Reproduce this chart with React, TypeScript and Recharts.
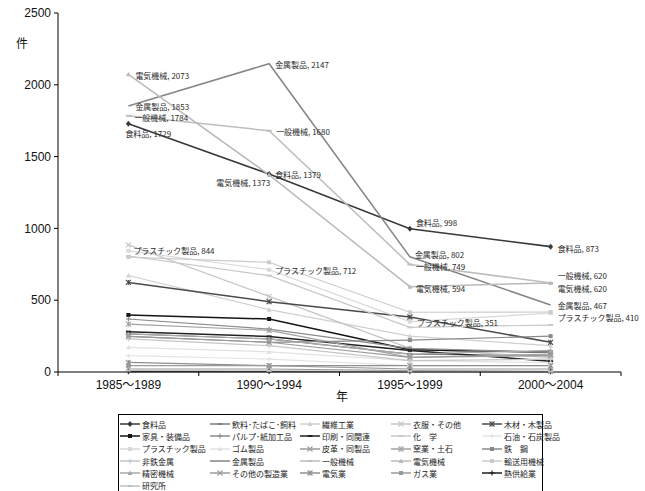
import React from "react"
import { LabelList, Line, LineChart, XAxis, YAxis } from "recharts"

const periods = ["1985～1989", "1990～1994", "1995～1999", "2000～2004"]
const yTicks = [0, 500, 1000, 1500, 2000, 2500]

const food = [1729, 1379, 998, 873]
const beverage = [265, 230, 125, 114]
const textile = [672, 434, 250, 183]
const apparel = [885, 527, 165, 100]
const lumber = [624, 490, 383, 207]
const furniture = [397, 369, 155, 137]
const pulp = [369, 299, 165, 137]
const printing = [281, 248, 150, 75]
const chemical = [808, 671, 311, 327]
const petroleum = [114, 90, 44, 44]
const plastic = [844, 712, 351, 410]
const rubber = [172, 140, 79, 65]
const leather = [21, 21, 10, 5]
const ceramic = [334, 290, 102, 125]
const steel = [248, 207, 222, 250]
const nonferrous = [230, 183, 79, 90]
const metal = [1853, 2147, 802, 467]
const machinery = [1784, 1680, 749, 620]
const electrical = [2073, 1373, 594, 620]
const transport = [800, 764, 416, 418]
const precision = [265, 230, 125, 150]
const otherMfg = [248, 207, 102, 114]
const electricity = [67, 44, 44, 44]
const gas = [44, 44, 21, 21]
const heat = [2, 2, 2, 2]
const research = [10, 8, 5, 3]

const seriesNames = [
  "食料品", "飲料･たばこ･飼料", "繊維工業", "衣服・その他", "木材・木製品",
  "家具・装備品", "パルプ･紙加工品", "印刷・同関連", "化　学", "石油・石炭製品",
  "プラスチック製品", "ゴム製品", "皮革・同製品", "窯業・土石", "鉄　鋼",
  "非鉄金属", "金属製品", "一般機械", "電気機械", "輸送用機械",
  "精密機械", "その他の製造業", "電気業", "ガス業", "熱供給業",
  "研究所",
]
const seriesValues = [
  food, beverage, textile, apparel, lumber,
  furniture, pulp, printing, chemical, petroleum,
  plastic, rubber, leather, ceramic, steel,
  nonferrous, metal, machinery, electrical, transport,
  precision, otherMfg, electricity, gas, heat,
  research,
]

// points that carry a "name, value" label: [series, period index]
const labelPoints: [string, number][] = [
  ["電気機械", 0], ["金属製品", 0], ["一般機械", 0], ["食料品", 0], ["プラスチック製品", 0],
  ["金属製品", 1], ["一般機械", 1], ["食料品", 1], ["電気機械", 1], ["プラスチック製品", 1],
  ["食料品", 2], ["金属製品", 2], ["一般機械", 2], ["電気機械", 2], ["プラスチック製品", 2],
  ["食料品", 3], ["一般機械", 3], ["電気機械", 3], ["金属製品", 3], ["プラスチック製品", 3],
]

type Marker = "diamond" | "square" | "triangle" | "x" | "star" | "plus" | "dash" | "none"
type Style = { color: string; marker: Marker; width?: number }

const styles: Style[] = [
  { color: "#383838", marker: "diamond", width: 1.6 },
  { color: "#7e7e7e", marker: "dash" },
  { color: "#d0d0d0", marker: "triangle" },
  { color: "#c4c4c4", marker: "x" },
  { color: "#4a4a4a", marker: "star", width: 1.5 },
  { color: "#151515", marker: "square", width: 1.5 },
  { color: "#8c8c8c", marker: "plus" },
  { color: "#222222", marker: "dash", width: 1.5 },
  { color: "#c8c8c8", marker: "dash" },
  { color: "#e4e4e4", marker: "plus" },
  { color: "#d8d8d8", marker: "square" },
  { color: "#e2e2e2", marker: "triangle" },
  { color: "#9a9a9a", marker: "x" },
  { color: "#a2a2a2", marker: "star" },
  { color: "#8a8a8a", marker: "square" },
  { color: "#c6c6c6", marker: "plus" },
  { color: "#858585", marker: "none", width: 1.5 },
  { color: "#bdbdbd", marker: "dash", width: 1.5 },
  { color: "#bababa", marker: "triangle", width: 1.5 },
  { color: "#cbcbcb", marker: "square" },
  { color: "#a8a8a8", marker: "triangle" },
  { color: "#9c9c9c", marker: "x" },
  { color: "#8f8f8f", marker: "star" },
  { color: "#9a9a9a", marker: "square" },
  { color: "#1f1f1f", marker: "plus" },
  { color: "#c0c0c0", marker: "dash" },
]

const labelPlacement: Record<string, { dx: number; dy: number; anchor?: "start" | "end" }> = {
  "電気機械-0": { dx: 7, dy: 1 },
  "金属製品-0": { dx: 7, dy: 1 },
  "一般機械-0": { dx: 6, dy: 2 },
  "食料品-0": { dx: -3, dy: 10 },
  "プラスチック製品-0": { dx: 5, dy: 0 },
  "金属製品-1": { dx: 6, dy: 1 },
  "一般機械-1": { dx: 7, dy: 1 },
  "食料品-1": { dx: 6, dy: 1 },
  "電気機械-1": { dx: 1, dy: 8, anchor: "end" },
  "プラスチック製品-1": { dx: 6, dy: 1 },
  "食料品-2": { dx: 6, dy: -6 },
  "金属製品-2": { dx: 5, dy: -2 },
  "一般機械-2": { dx: 6, dy: 2 },
  "電気機械-2": { dx: 6, dy: 2 },
  "プラスチック製品-2": { dx: 7, dy: 1 },
  "食料品-3": { dx: 7, dy: 2 },
  "一般機械-3": { dx: 7, dy: -7 },
  "電気機械-3": { dx: 7, dy: 6 },
  "金属製品-3": { dx: 7, dy: 1 },
  "プラスチック製品-3": { dx: 7, dy: 4 },
}

const rows = periods.map((period, i) => {
  const row: Record<string, number | string> = { period, pos: i + 0.5 }
  seriesValues.forEach((vals, k) => {
    row[`s${k}`] = vals[i]
  })
  return row
})

const FONT = '"Liberation Sans", Arial, "Noto Sans CJK JP", sans-serif'
const CJK = '"Noto Sans CJK JP", "Liberation Sans", sans-serif'
const BAND = (621 - 58) / periods.length

function MarkerShape({ kind, x, y, color, r = 2.5 }: { kind: Marker; x: number; y: number; color: string; r?: number }) {
  switch (kind) {
    case "diamond":
      return <polygon points={`${x},${y - r - 0.5} ${x + r},${y} ${x},${y + r + 0.5} ${x - r},${y}`} fill={color} />
    case "square":
      return <rect x={x - r + 0.5} y={y - r + 0.5} width={2 * r - 1} height={2 * r - 1} fill={color} />
    case "triangle":
      return <polygon points={`${x},${y - r} ${x + r},${y + r - 0.5} ${x - r},${y + r - 0.5}`} fill={color} />
    case "x":
      return (
        <g stroke={color} strokeWidth={1.1}>
          <line x1={x - r} y1={y - r} x2={x + r} y2={y + r} />
          <line x1={x - r} y1={y + r} x2={x + r} y2={y - r} />
        </g>
      )
    case "star":
      return (
        <g stroke={color} strokeWidth={1.1}>
          <line x1={x - r} y1={y - r} x2={x + r} y2={y + r} />
          <line x1={x - r} y1={y + r} x2={x + r} y2={y - r} />
          <line x1={x} y1={y - r} x2={x} y2={y + r} />
        </g>
      )
    case "plus":
      return (
        <g stroke={color} strokeWidth={1.1}>
          <line x1={x} y1={y - r} x2={x} y2={y + r} />
          <line x1={x - r} y1={y} x2={x + r} y2={y} />
        </g>
      )
    case "dash":
      return <rect x={x - r} y={y - 1} width={2 * r} height={2} fill={color} />
    default:
      return null
  }
}

function makeDot(style: Style, k: number) {
  return (props: any) => {
    const { cx, cy, index } = props
    if (cx == null || cy == null) return <g key={`d${k}-${index}`} />
    return (
      <g key={`d${k}-${index}`}>
        <MarkerShape kind={style.marker} x={cx} y={cy} color={style.color} />
      </g>
    )
  }
}

function makeLabel(name: string) {
  return (props: any) => {
    const { x, y, value, index } = props
    const place = labelPlacement[`${name}-${index}`]
    if (!place || !labelPoints.some(([n, i]) => n === name && i === index)) return null
    return (
      <text
        x={x + place.dx}
        y={y + place.dy}
        textAnchor={place.anchor ?? "start"}
        dominantBaseline="central"
        fontSize={8}
        fontFamily={CJK}
        fill="#2a2a2a"
      >
        {`${name}, ${value}`}
      </text>
    )
  }
}

function PeriodTick(props: any) {
  const { x, y, payload } = props
  const label = periods[payload.value]
  if (!label) return <g />
  return (
    <text x={x + BAND / 2} y={y} dy="0.71em" textAnchor="middle" fontSize={12} fontFamily={FONT} fill="#111">
      {label}
    </text>
  )
}

function LegendBox() {
  return (
    <div
      style={{
        position: "absolute",
        left: 118,
        top: 414,
        width: 425,
        height: 90,
        border: "1px solid #000",
        background: "#fff",
        boxSizing: "border-box",
        padding: "3px 0 0 1px",
        display: "grid",
        gridTemplateColumns: "90px 90px 91px 91px 62px",
        gridAutoRows: "12.3px",
        fontFamily: CJK,
        fontSize: 8,
        color: "#222",
      }}
    >
      {seriesNames.map((name, k) => (
        <div key={name} style={{ display: "flex", alignItems: "center", whiteSpace: "nowrap" }}>
          <svg width={20} height={8} style={{ marginRight: 2, flex: "none" }}>
            <line x1={0} y1={4} x2={20} y2={4} stroke={styles[k].color} strokeWidth={1.5} />
            <MarkerShape kind={styles[k].marker} x={10} y={4} color={styles[k].color} />
          </svg>
          <span>{name}</span>
        </div>
      ))}
    </div>
  )
}

export default function App() {
  return (
    <div style={{ position: "relative", width: 645, height: 491, overflow: "hidden", background: "#fff" }}>
      <style>{"body{margin:0}"}</style>
      <LineChart width={645} height={491} data={rows} margin={{ top: 13, right: 24, left: 0, bottom: 89 }}>
        <XAxis
          dataKey="pos"
          type="number"
          domain={[0, periods.length]}
          ticks={[0, 1, 2, 3, 4]}
          tick={<PeriodTick />}
          tickSize={4}
          tickMargin={4}
          height={30}
          stroke="#000"
          interval={0}
        />
        <YAxis
          domain={[0, 2500]}
          ticks={yTicks}
          width={58}
          tickSize={4}
          tickMargin={3}
          stroke="#000"
          tick={{ fontSize: 12, fontFamily: FONT, fill: "#111" }}
        />
        {seriesNames.map((name, k) => (
          <Line
            key={name}
            type="linear"
            dataKey={`s${k}`}
            name={name}
            stroke={styles[k].color}
            strokeWidth={styles[k].width ?? 1.2}
            dot={makeDot(styles[k], k)}
            activeDot={false}
            isAnimationActive={false}
          >
            <LabelList dataKey={`s${k}`} content={makeLabel(name)} />
          </Line>
        ))}
      </LineChart>
      <div style={{ position: "absolute", left: 16, top: 34, fontFamily: CJK, fontSize: 12, color: "#111" }}>件</div>
      <div style={{ position: "absolute", left: 336, top: 387, fontFamily: CJK, fontSize: 12, color: "#111" }}>年</div>
      <LegendBox />
    </div>
  )
}
